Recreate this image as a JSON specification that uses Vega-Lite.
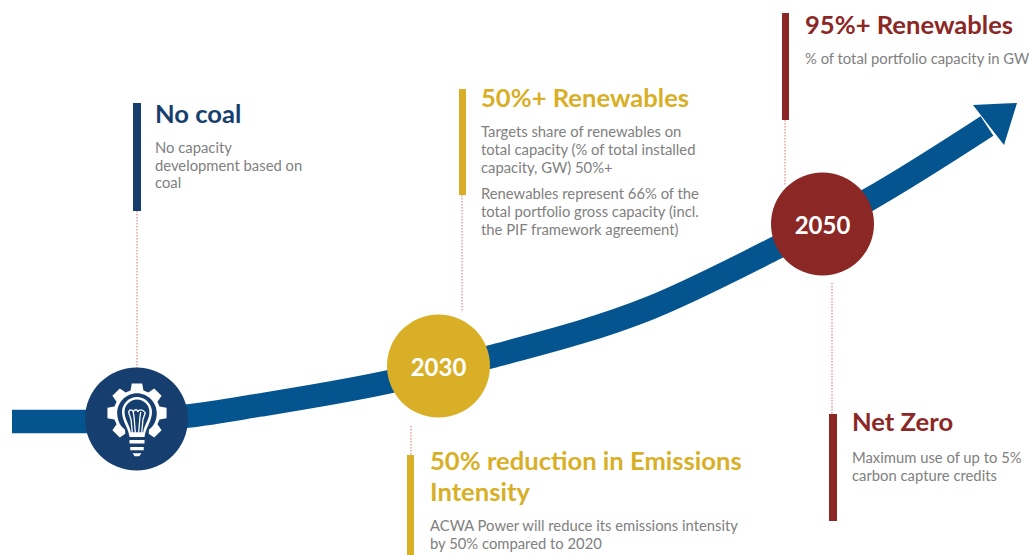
{"$schema":"https://vega.github.io/schema/vega-lite/v6.json","width":1029,"height":555,"autosize":{"type":"none"},"padding":0,"background":"#ffffff","config":{"view":{"stroke":null}},
"datasets":{
"curve":[{"x":12,"y":421.5},{"x":86,"y":421.5},{"x":136,"y":420},{"x":188,"y":416},{"x":260,"y":405},{"x":388,"y":382},{"x":490,"y":357},{"x":650,"y":308},{"x":770,"y":251},{"x":868,"y":200},{"x":987,"y":126}],
"head":[{"x":973,"y":105,"y2":105},{"x":1004,"y":145,"y2":103.6},{"x":1017,"y":103,"y2":103}],
"stems":[{"x":137,"y":211,"y2":368},{"x":462,"y":195,"y2":312},{"x":785,"y":120,"y2":186},{"x":411,"y":426,"y2":455},{"x":832,"y":283,"y2":414}],
"bars":[{"x":133,"x2":141,"y":103,"y2":211,"group":"coal"},{"x":459,"x2":466,"y":89,"y2":195,"group":"y2030"},{"x":407,"x2":414,"y":455,"y2":555,"group":"y2030"},{"x":782,"x2":789,"y":13,"y2":120,"group":"y2050"},{"x":829,"x2":837,"y":414,"y2":521,"group":"y2050"}],
"nodes":[{"x":136.5,"y":419,"group":"coal"},{"x":438.5,"y":366,"group":"y2030"},{"x":822.5,"y":224,"group":"y2050"}],
"gear":[{"x":137,"y":413}],
"bulb":[{"x":137,"y":412}],
"years":[{"x":438.5,"y":369,"text":"2030"},{"x":822.5,"y":227,"text":"2050"}],
"titles":[{"x":155,"y":123,"text":"No coal","group":"coal"},{"x":481,"y":107,"text":"50%+ Renewables","group":"y2030"},{"x":805,"y":34,"text":"95%+ Renewables","group":"y2050"},{"x":852,"y":431,"text":"Net Zero","group":"y2050"},{"x":430,"y":470,"text":"50% reduction in Emissions","group":"y2030"},{"x":430,"y":501,"text":"Intensity","group":"y2030"}],
"body":[{"x":155,"y":153,"text":"No capacity"},{"x":155,"y":171,"text":"development based on"},{"x":155,"y":188,"text":"coal"},{"x":481,"y":137,"text":"Targets share of renewables on"},{"x":481,"y":155,"text":"total capacity (% of total installed"},{"x":481,"y":173,"text":"capacity, GW) 50%+"},{"x":481,"y":199,"text":"Renewables represent 66% of the"},{"x":481,"y":217,"text":"total portfolio gross capacity (incl."},{"x":481,"y":235,"text":"the PIF framework agreement)"},{"x":805,"y":64,"text":"% of total portfolio capacity in GW"},{"x":852,"y":463,"text":"Maximum use of up to 5%"},{"x":852,"y":481,"text":"carbon capture credits"},{"x":430,"y":531,"text":"ACWA Power will reduce its emissions intensity"},{"x":430,"y":549,"text":"by 50% compared to 2020"}]
},
"encoding":{"x":{"field":"x","type":"quantitative","axis":null,"scale":{"domain":[0,1029],"nice":false,"zero":false}},"y":{"field":"y","type":"quantitative","axis":null,"scale":{"domain":[555,0],"nice":false,"zero":false}}},
"layer":[
{"data":{"name":"stems"},"mark":{"type":"rule","color":"#dd8b88","strokeWidth":1.2,"strokeDash":[1.5,1.5]},"encoding":{"y2":{"field":"y2"}}},
{"data":{"name":"bars"},"mark":{"type":"rect"},"encoding":{"x2":{"field":"x2"},"y2":{"field":"y2"},"color":{"field":"group","type":"nominal","legend":null,"scale":{"domain":["coal","y2030","y2050"],"range":["#163f6f","#d8af26","#8b2724"]}}}},
{"data":{"name":"curve"},"mark":{"type":"line","color":"#03548f","strokeWidth":23.5,"interpolate":"monotone","strokeCap":"butt"}},
{"data":{"name":"head"},"mark":{"type":"area","color":"#03548f","opacity":1},"encoding":{"y2":{"field":"y2"}}},
{"data":{"name":"nodes"},"mark":{"type":"point","filled":true,"opacity":1,"size":10609,"shape":"circle"},"encoding":{"color":{"field":"group","type":"nominal","legend":null}}},
{"data":{"name":"gear"},"mark":{"type":"point","filled":true,"opacity":1,"color":"#ffffff","size":3600,"shape":"M-.215 -.75L-.174 -.985L.174 -.985L.215 -.75L.378 -.682L.573 -.82L.82 -.573L.682 -.378L.75 -.215L.985 -.174L.985 .174L.75 .215L.682 .378L.82 .573L.573 .82L.378 .682L.215 .75L.174 .985L-.174 .985L-.215 .75L-.378 .682L-.573 .82L-.82 .573L-.682 .378L-.75 .215L-.985 .174L-.985 -.174L-.75 -.215L-.682 -.378L-.82 -.573L-.573 -.82L-.378 -.682Z"}},
{"data":{"name":"gear"},"mark":{"type":"point","filled":true,"opacity":1,"color":"#163f6f","size":3600,"shape":"M-.66 0C-.66 -.36 -.36 -.66 0 -.66C.36 -.66 .66 -.36 .66 0C.66 .25 .55 .45 .4 .55L.36 1.1L-.36 1.1L-.4 .55C-.55 .45 -.66 .25 -.66 0Z"}},
{"data":{"name":"bulb"},"mark":{"type":"point","filled":true,"opacity":1,"color":"#ffffff","size":900,"shape":"M-.5 1.67C-.55 1.1 -1 .6 -1 0C-1 -.55 -.55 -1 0 -1C.55 -1 1 -.55 1 0C1 .6 .55 1.1 .5 1.67ZM-.5 1.87L.5 1.87L.5 2.1L-.5 2.1ZM-.45 2.33L.45 2.33L.45 2.55L-.45 2.55ZM-.3 2.75L.3 2.75L.15 2.95L-.15 2.95Z"}},
{"data":{"name":"bulb"},"mark":{"type":"point","filled":true,"opacity":1,"color":"#163f6f","size":620,"shape":"M-.5 1.62C-.55 1.1 -1 .6 -1 0C-1 -.55 -.55 -1 0 -1C.55 -1 1 -.55 1 0C1 .6 .55 1.1 .5 1.62Z"}},
{"data":{"name":"bulb"},"mark":{"type":"point","filled":false,"opacity":1,"color":"#ffffff","strokeWidth":1.3,"size":900,"shape":"M-.3 1.5L-.4 .5L-.55 .05C-.55 -.2 -.3 -.2 -.25 0C-.2 -.2 .05 -.2 .05 0C.1 -.2 .4 -.2 .55 .05L.4 .5L.3 1.5M-.1 1.5L-.2 .3L-.25 0M.1 1.5L.2 .3L.25 0"}},
{"data":{"name":"years"},"mark":{"type":"text","font":"Lato","fontWeight":"bold","fontSize":24,"color":"#ffffff","align":"center","baseline":"middle"},"encoding":{"text":{"field":"text"}}},
{"data":{"name":"titles"},"mark":{"type":"text","font":"Lato","fontWeight":"bold","fontSize":25.6,"align":"left","baseline":"alphabetic"},"encoding":{"text":{"field":"text"},"color":{"field":"group","type":"nominal","legend":null}}},
{"data":{"name":"body"},"mark":{"type":"text","font":"Lato","fontSize":14.8,"color":"#808080","align":"left","baseline":"alphabetic"},"encoding":{"text":{"field":"text"}}}
]}
